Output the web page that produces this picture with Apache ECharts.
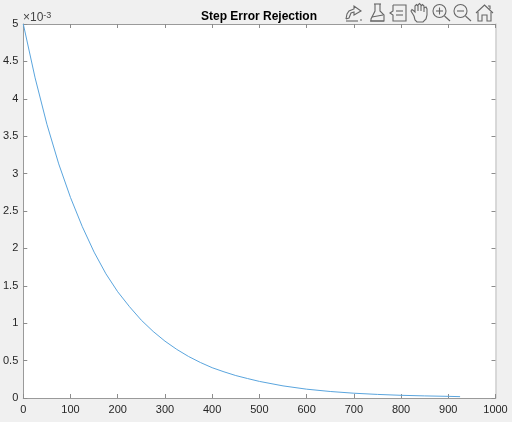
<!DOCTYPE html>
<html><head><meta charset="utf-8">
<style>html,body{margin:0;padding:0;background:#f0f0f0}#c{width:512px;height:422px}</style>
<script src="https://cdn.jsdelivr.net/npm/echarts@6/dist/echarts.min.js"></script>
</head><body><div id="c"></div>
<script>
const titleText = 'Step Error Rejection';
const stepIndex = [0,25,50,75,100,125,150,175,200,225,250,275,300,325,350,375,400,425,450,475,500,550,600,650,700,750,800,850,900,925];
const errorTimes1e3 = [5,4.28,3.66,3.13,2.68,2.29,1.95,1.66,1.42,1.22,1.04,0.89,0.76,0.65,0.555,0.475,0.405,0.35,0.30,0.26,0.222,0.162,0.118,0.087,0.064,0.048,0.036,0.028,0.022,0.018];
const xRange = [0,1000], xStep = 100;
const yRange = [0,5], yStep = 0.5;

const font = '"Liberation Sans", Arial, sans-serif';
const ink = '#262626';
const iconStyle = {fill:'none', stroke:'#666666', lineWidth:1.1};
const iconLines = [
 // edit plot arrow
 [[346,19],[347,14],[349,11],[354,9],[354,6],[361,11],[354,15],[354,12],[351,13],[349,18],[346,19]],
 [[346,21],[358,21]], [[360,20],[362,20]],
 // brush
 [[374,4],[381,4]],
 [[375,4],[375,11],[371,19],[371,21],[384,21],[384,15],[380,11],[380,4]],
 [[372,17],[383,15]], [[370,21],[384,21]],
 // legend
 [[393,5],[406,5],[406,21],[393,21],[393,15],[390,13],[393,11],[393,5]],
 [[396,11],[403,11]], [[396,15],[403,15]],
 // hand
 [[414,16],[411,11],[412,9.5],[414,11],[415,12],[415,6],[416.5,4.5],[418,6],[418,11],[418,5],[419.5,3.5],[421,5],[421,11],[421,6],[422.5,4.5],[424,6],[424,12],[424,8],[426,7],[427,9],[427,15],[426,19],[423,22],[417,22],[415,20],[414,16]],
 // zoom handles and signs
 [[444.5,16],[450,21]], [[436,11],[443,11]], [[439.5,7.5],[439.5,14.5]],
 [[465.5,16],[471,21]], [[457,11],[464,11]],
 // home
 [[476,13],[484.5,5],[493,13]],
 [[478,12],[478,21],[482,21],[482,15],[487,15],[487,21],[491,21],[491,12]],
 [[488,6],[490,6],[490,9]]
];
const iconCircles = [[439.5,11,6.5],[460.5,11,6.5]];

const chart = echarts.init(document.getElementById('c'), null, {renderer:'canvas'});
const axisBase = {
  axisLine:{show:true, onZero:false, lineStyle:{color:'#9a9a9a', width:1}},
  axisTick:{show:true, inside:true, length:4, lineStyle:{color:'#8c8c8c', width:1}},
  splitLine:{show:false}
};
chart.setOption({
  animation:false,
  backgroundColor:'#f0f0f0',
  title:{text:titleText, left:196, top:6,
    textStyle:{fontFamily:font, fontSize:12, fontWeight:'bold', color:'#000'}},
  grid:{left:23, right:16.5, top:24, bottom:24, backgroundColor:'#fff', show:true, borderWidth:0},
  xAxis:[
    Object.assign({type:'value', position:'bottom', min:xRange[0], max:xRange[1], interval:xStep,
      axisLabel:{fontFamily:font, fontSize:11, color:ink, margin:6, hideOverlap:false,
        formatter:v=>String(v), showMinLabel:true, showMaxLabel:true}}, axisBase),
    Object.assign({type:'value', position:'top', min:xRange[0], max:xRange[1], interval:xStep,
      axisLabel:{show:false}}, axisBase)
  ],
  yAxis:[
    Object.assign({type:'value', position:'left', min:yRange[0], max:yRange[1], interval:yStep,
      axisLabel:{fontFamily:font, fontSize:11, color:ink, margin:5, padding:[2,0,0,0],
        showMinLabel:true, showMaxLabel:true}}, axisBase),
    Object.assign({type:'value', position:'right', min:yRange[0], max:yRange[1], interval:yStep,
      axisLabel:{show:false}}, axisBase, {axisLine:{show:true, onZero:false, lineStyle:{color:'#cfcfcf', width:1.5}}})
  ],
  series:[{
    type:'line', showSymbol:false, smooth:false, clip:false,
    data:stepIndex.map((x,i)=>[x,errorTimes1e3[i]]),
    lineStyle:{color:'#5aa5de', width:1}
  }],
  graphic:{elements:[
    {type:'text', left:23, top:11, silent:true, style:{
      text:'{a|×10}{b|-3}',
      rich:{a:{fontFamily:font, fontSize:12, fill:'#444', verticalAlign:'bottom', lineHeight:13},
            b:{fontFamily:font, fontSize:9, fill:'#444', verticalAlign:'top', lineHeight:13}}
    }},
    ...iconLines.map(p=>({type:'polyline', silent:true, shape:{points:p}, style:iconStyle})),
    ...iconCircles.map(c=>({type:'circle', silent:true, shape:{cx:c[0],cy:c[1],r:c[2]}, style:iconStyle}))
  ]}
});
</script></body></html>
